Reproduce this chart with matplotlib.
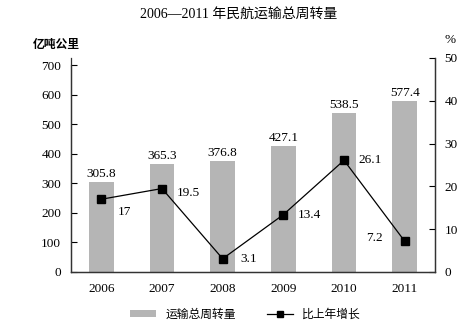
import matplotlib
matplotlib.use("Agg")
import matplotlib.pyplot as plt
from matplotlib.patches import Patch
from matplotlib.lines import Line2D

plt.rcParams['font.family'] = ['Liberation Serif', 'Noto Sans CJK SC']

years = ["2006", "2007", "2008", "2009", "2010", "2011"]
volume = [305.8, 365.3, 376.8, 427.1, 538.5, 577.4]
growth = [17, 19.5, 3.1, 13.4, 26.1, 7.2]
growth_labels = ["17", "19.5", "3.1", "13.4", "26.1", "7.2"]

fig = plt.figure(figsize=(4.77, 3.32), dpi=100)
ax = fig.add_axes([71 / 477, 60 / 332, 364 / 477, 214 / 332])
ax2 = ax.twinx()

fs = 9.5
x = list(range(len(years)))
bar_color = "#b5b5b5"
ax.bar(x, volume, width=0.41, color=bar_color, zorder=1)
for i, v in enumerate(volume):
    ax.text(i, v + 7, f"{v:.1f}", ha="center", va="bottom", fontsize=fs)

ax.set_xlim(-0.5, 5.5)
ax.set_ylim(0, 700 * 214 / 207)
ax.set_yticks(range(0, 701, 100))
ax.spines['left'].set_bounds(0, 700)
ax.set_xticks(x)
ax.set_xticklabels(years)
ax.tick_params(axis='both', direction='in', labelsize=fs, length=4, width=0.8)
ax.tick_params(axis='x', length=0, pad=8)
ax.tick_params(axis='y', pad=7)
ax.spines['top'].set_visible(False)
ax2.spines['top'].set_visible(False)
for a in (ax, ax2):
    for s in a.spines.values():
        s.set_linewidth(0.9)
        s.set_color("#333333")

ax2.plot(x, growth, color="black", lw=0.9, marker="s", markersize=6, zorder=3)
ax2.set_ylim(0, 50)
ax2.set_yticks(range(0, 51, 10))
ax2.tick_params(axis='y', direction='in', labelsize=fs, length=4, width=0.8, pad=7)
offsets = [(17, -9), (19, -3), (19, 0), (19, 0), (19, 0), (-22, 2)]
for i, (g, lab) in enumerate(zip(growth, growth_labels)):
    dx, dy = offsets[i]
    ax2.annotate(lab, (i, g), xytext=(dx, dy), textcoords="offset points",
                 ha="center", va="center", fontsize=fs)
ax.set_zorder(0)
ax2.set_zorder(1)

fig.text(0.5, 0.955, "2006—2011 年民航运输总周转量", ha="center", va="center", fontsize=10)
fig.text(33 / 477, 1 - 45 / 332, "亿吨公里", ha="left", va="center", fontsize=8.5, fontweight="bold")
fig.text(450 / 477, 1 - 40 / 332, "%", ha="center", va="center", fontsize=fs)

handles = [Patch(facecolor=bar_color, edgecolor="none"),
           Line2D([0], [0], color="black", lw=0.9, marker="s", markersize=5)]
fig.legend(handles, ["运输总周转量", "比上年增长"], loc="center", bbox_to_anchor=(0.515, 1 - 315 / 332),
           ncol=2, frameon=False, fontsize=8.5, handlelength=2.2, handleheight=0.5,
           columnspacing=2.6)

fig.savefig("out.png", dpi=100)
